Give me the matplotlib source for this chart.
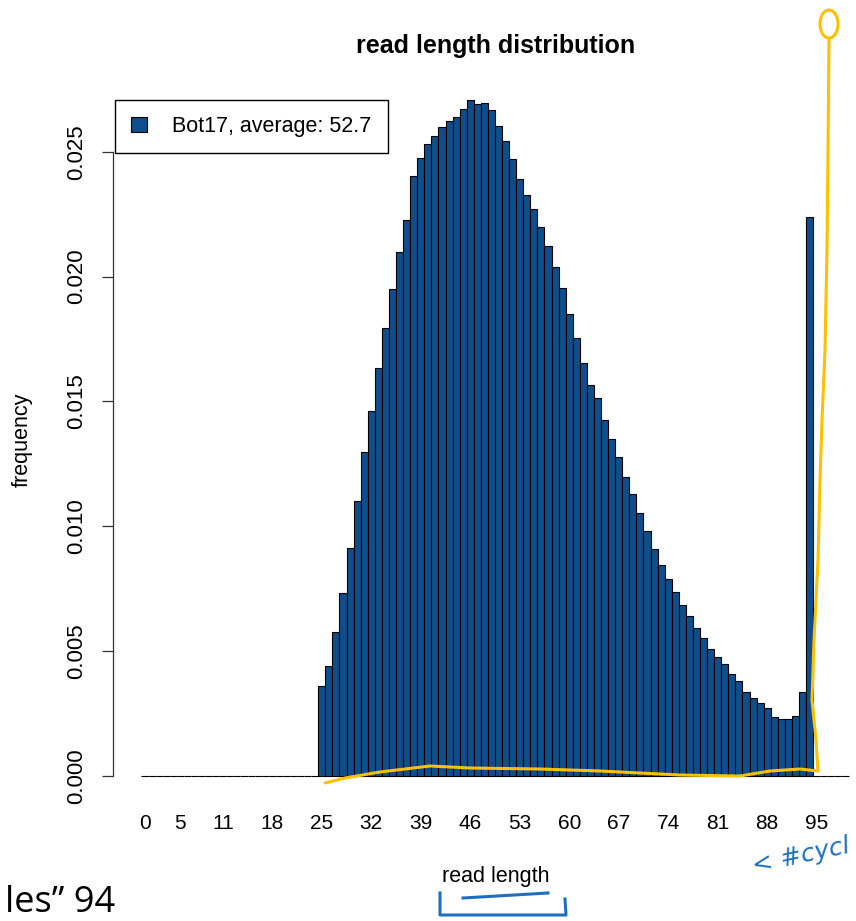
import matplotlib
matplotlib.use("Agg")
import matplotlib.pyplot as plt
from matplotlib.patches import Patch, Ellipse
from matplotlib.transforms import Affine2D
import numpy as np

plt.rcParams['font.family'] = ['Liberation Sans', 'DejaVu Sans']

# ---- data ----
read_lengths = list(range(0, 100))
freq_nonzero = [
    0.00361, 0.00441, 0.00577, 0.00734, 0.00912, 0.01102, 0.01299, 0.01462,  # 25-32
    0.01633, 0.01796, 0.01951, 0.02099, 0.02225, 0.02404, 0.02476, 0.02529,  # 33-40
    0.02564, 0.02601, 0.02625, 0.02641, 0.02673, 0.02707, 0.02690, 0.02697,  # 41-48
    0.02668, 0.02605, 0.02544, 0.02472, 0.02390, 0.02328, 0.02270, 0.02198,  # 49-56
    0.02123, 0.02037, 0.01956, 0.01850, 0.01753, 0.01653, 0.01565, 0.01512,  # 57-64
    0.01426, 0.01349, 0.01277, 0.01199, 0.01131, 0.01055, 0.00983, 0.00910,  # 65-72
    0.00846, 0.00789, 0.00736, 0.00683, 0.00640, 0.00592, 0.00554, 0.00510,  # 73-80
    0.00476, 0.00447, 0.00410, 0.00380, 0.00337, 0.00312, 0.00291, 0.00273,  # 81-88
    0.00236, 0.00230, 0.00230, 0.00241, 0.00338, 0.02240,                    # 89-94
]
frequency = [0.0] * 25 + freq_nonzero + [0.0] * 5
xtick_values = [0, 5, 11, 18, 25, 32, 39, 46, 53, 60, 67, 74, 81, 88, 95]
ytick_values = [0.000, 0.005, 0.010, 0.015, 0.020, 0.025]
legend_label = "Bot17, average: 52.7"
title = "read length distribution"
bar_color = "#104E8B"

W, H = 856, 921
fig = plt.figure(figsize=(W / 100, H / 100), dpi=100)
ax = fig.add_axes([113.2 / W, (H - 803) / H, 763.6 / W, 730 / H])

ax.bar(read_lengths, frequency, width=1.0, color=bar_color,
       edgecolor="black", linewidth=0.8, align="center")

ymax = max(frequency)
ax.set_xlim(-0.5 - 0.04 * 100, 99.5 + 0.04 * 100)
ax.set_ylim(-0.04 * ymax, ymax * 1.04)

for s in ["top", "right", "bottom"]:
    ax.spines[s].set_visible(False)
ax.spines["left"].set_bounds(0, 0.025)
ax.spines["left"].set_color("#333333")
ax.spines["left"].set_linewidth(0.9)

ax.set_xticks(xtick_values)
ax.set_xticklabels([str(v) for v in xtick_values], fontsize=15)
ax.tick_params(axis="x", length=0, pad=8)

ax.set_yticks(ytick_values)
ax.set_yticklabels([f"{v:.3f}" for v in ytick_values], fontsize=16,
                   rotation=90, va="center")
ax.tick_params(axis="y", length=8, width=0.9, color="#333333", pad=11)

fig.text(496 / W, 1 - 46 / H, title, fontsize=18, fontweight="bold",
         ha="center", va="center")
fig.text(496 / W, 1 - 876 / H, "read length", fontsize=15.5,
         ha="center", va="center")
fig.text(22 / W, 1 - 440 / H, "frequency", fontsize=15.5,
         ha="center", va="center", rotation=90)

handle = Patch(facecolor=bar_color, edgecolor="black", linewidth=0.8)
leg = fig.legend([handle], [legend_label], loc="upper left",
                 bbox_to_anchor=(115 / W, 1 - 100 / H),
                 bbox_transform=fig.transFigure, borderaxespad=0,
                 fontsize=15.5, fancybox=False, edgecolor="black",
                 framealpha=1, handlelength=0.72, handleheight=0.72,
                 handletextpad=1.2, borderpad=0.75)
leg.get_frame().set_linewidth(1.0)

# ---- slide overlays (hand-drawn annotations and slide text), in pixel coords ----
px = Affine2D().scale(1 / W, -1 / H).translate(0, 1) + fig.transFigure
yellow = "#FFC000"
blue = "#1F6FC0"
fig.add_artist(plt.Line2D(
    [325, 345, 380, 430, 470, 540, 600, 680, 740, 770, 800, 818],
    [783, 778, 772, 766, 768, 769, 771, 775, 776, 771, 769, 771],
    transform=px, color=yellow, lw=2.2, solid_capstyle="round"))
fig.add_artist(plt.Line2D(
    [818, 816, 812, 814, 818, 820, 822, 825, 827, 828, 829],
    [771, 740, 700, 640, 560, 480, 420, 350, 250, 150, 40],
    transform=px, color=yellow, lw=2.2, solid_capstyle="round"))
fig.add_artist(Ellipse((829, 24), 18, 28, transform=px, fill=False,
                       edgecolor=yellow, lw=2.2))
fig.add_artist(plt.Line2D([440, 440, 566, 565], [893, 915, 915, 899],
                          transform=px, color=blue, lw=2.2))
fig.add_artist(plt.Line2D([463, 548], [898, 893], transform=px,
                          color=blue, lw=2.2))
fig.text(852 / W, 1 - 856 / H, "< #cycl", fontsize=18, color=blue,
         family=["DejaVu Sans"], style="italic", rotation=12,
         ha="right", va="center")
fig.text(5 / W, 1 - 903 / H, "les\u201d 94", fontsize=26,
         family=["Open Sans", "DejaVu Sans"], ha="left", va="center")

fig.savefig("out.png", dpi=100)
